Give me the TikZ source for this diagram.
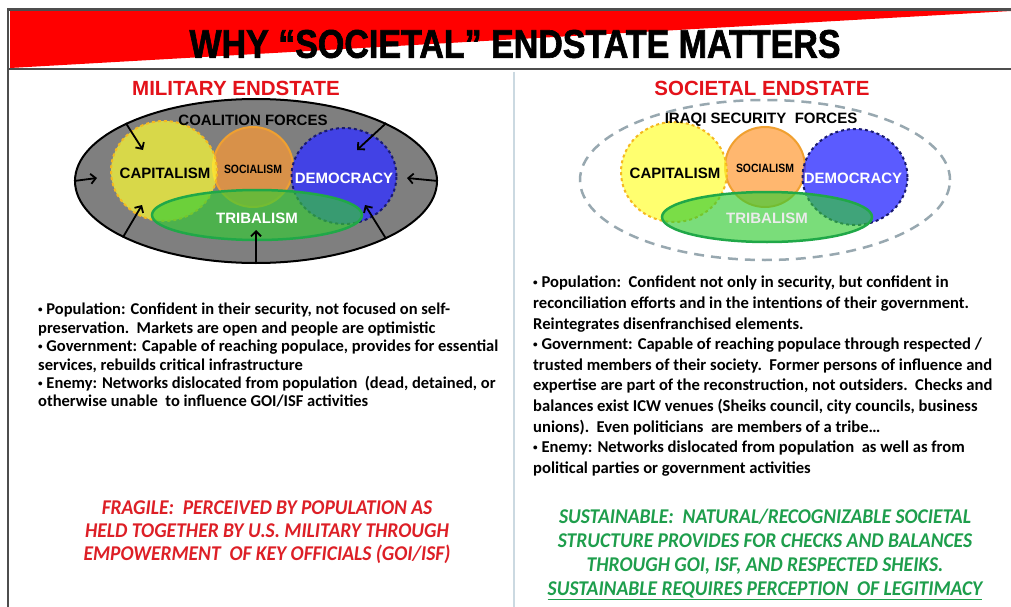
\documentclass[tikz,border=0pt]{standalone}
\usepackage{fontspec}
\setmainfont{Carlito}
\newfontfamily\arialfont{Liberation Sans}
\newfontfamily\narrowfont[FakeStretch=0.87]{Liberation Sans}
\newfontfamily\titlefont[FakeStretch=0.85,FakeBold=1.6]{Liberation Sans}
\newfontfamily\calnarrow[FakeStretch=0.93]{Carlito}
\usetikzlibrary{shapes.geometric,arrows.meta}
\newcommand{\dotbul}{\raisebox{0.12em}{\scalebox{0.55}{•}}}
\definecolor{hdrred}{HTML}{FF0000}
\definecolor{framegray}{HTML}{4D4D4D}
\definecolor{divider}{HTML}{CBD9E1}
\definecolor{headred}{HTML}{E3121A}
\definecolor{fragred}{HTML}{DD1F26}
\definecolor{sustgreen}{HTML}{1E9E4C}
\definecolor{coalgray}{HTML}{7F7F7F}
\definecolor{isfgray}{HTML}{98A8B0}
\definecolor{capfill}{HTML}{FFFF33}
\definecolor{capline}{HTML}{F5B820}
\definecolor{socfill}{HTML}{FF9933}
\definecolor{socline}{HTML}{F0A030}
\definecolor{demfill}{HTML}{3333FF}
\definecolor{demline}{HTML}{1A1A70}
\definecolor{tribfill}{HTML}{33CC33}
\definecolor{tribline}{HTML}{20A848}
\begin{document}
\begin{tikzpicture}[x=1pt,y=-1pt,
  every node/.append style={inner sep=0pt},
  blob/.style={ellipse,inner sep=0pt,line width=2pt},
  capblob/.style={blob,fill=capfill,fill opacity=0.7,draw=capline,dashed,minimum width=106pt,minimum height=100pt},
  socblob/.style={blob,fill=socfill,fill opacity=0.7,draw=socline,minimum size=80pt},
  demblob/.style={blob,fill=demfill,fill opacity=0.8,draw=demline,dashed,minimum width=105pt,minimum height=96pt},
  tribblob/.style={blob,fill=tribfill,fill opacity=0.65,draw=tribline,line width=2.5pt,minimum width=210pt,minimum height=50pt},
  tag/.style={font=\fontsize{15}{15}\selectfont\arialfont\bfseries},
  smalltag/.style={font=\fontsize{12}{12}\selectfont\narrowfont\bfseries},
  heading/.style={font=\fontsize{20.5}{20.5}\selectfont\arialfont\bfseries,text=headred},
  push/.style={black,line width=1.8pt,-{Straight Barb[length=5pt,width=10pt]}}]
\useasboundingbox (0,0) rectangle (1011,607);
\fill[white] (0,0) rectangle (1011,607);
% header band
\fill[hdrred] (10,11) -- (1011,11) -- (10,68) -- cycle;
\draw[framegray,line width=2.5pt] (1011,9.5) -- (8,9.5) -- (8,607);
\draw[framegray,line width=2pt] (8,69) -- (1011,69);
\draw[divider,line width=1.5pt] (514,72) -- (514,607);
\node[font=\fontsize{40}{40}\selectfont\titlefont\bfseries] (title) at (515,44) {WHY “SOCIETAL” ENDSTATE MATTERS};
\node[heading] (milHead) at (236,88) {MILITARY ENDSTATE};
\node[heading] (socHead) at (762,88) {SOCIETAL ENDSTATE};
% military endstate
\node[blob,draw=black,fill=coalgray,minimum width=362pt,minimum height=164pt] (coal) at (256,181) {};
\node[socblob] (soc) at (253,167) {};
\node[capblob] (cap) at (164,171) {};
\node[demblob] (dem) at (344,176) {};
\node[tribblob] (trib) at (257,215) {};
\node[tag] (coalT) at (253,120) {COALITION FORCES};
\node[tag] (capT) at (165,173) {CAPITALISM};
\node[smalltag] (socT) at (253,169) {SOCIALISM};
\node[tag,text=white] (demT) at (344,178) {DEMOCRACY};
\node[tag,text=white] (tribT) at (257,218) {TRIBALISM};
\coordinate (capNW) at (143,150);
\coordinate (capW) at (97,178);
\coordinate (capSW) at (142,205);
\coordinate (tribS) at (256,230);
\coordinate (demSE) at (365,205);
\coordinate (demE) at (407,178);
\coordinate (demNE) at (357,150);
\draw[push] (coal.156) -- (capNW);
\draw[push] (coal.180) -- (capW);
\draw[push] (coal.203) -- (capSW);
\draw[push] (coal.270) -- (tribS);
\draw[push] (coal.336) -- (demSE);
\draw[push] (coal.0) -- (demE);
\draw[push] (coal.24) -- (demNE);
% societal endstate
\node[blob,draw=isfgray,line width=2.5pt,dash pattern=on 10pt off 7pt,minimum width=370pt,minimum height=160pt] (isf) at (765,180) {};
\node[socblob] (soc2) at (765,167) {};
\node[capblob] (cap2) at (674,172) {};
\node[demblob] (dem2) at (855,177) {};
\node[tribblob] (trib2) at (767,217) {};
\node[tag] (isfT) at (761,120) {IRAQI SECURITY\ \ FORCES};
\node[tag] (cap2T) at (675,173) {CAPITALISM};
\node[smalltag] (soc2T) at (765,168) {SOCIALISM};
\node[tag,text=white] (dem2T) at (853,178) {DEMOCRACY};
\node[tag,text=white!92!black] (trib2T) at (767,218) {TRIBALISM};
% notes
\node[anchor=north west,align=left,font=\bfseries\fontsize{16.5}{18.4}\selectfont] (milNotes) at (38,303)
  {\dotbul\ Population: Confident in their security, not focused on self-\\
   preservation.\ \ Markets are open and people are optimistic\\
   \dotbul\ Government: Capable of reaching populace, provides for essential\\
   services, rebuilds critical infrastructure\\
   \dotbul\ Enemy: Networks dislocated from population\ \ (dead, detained, or\\
   otherwise unable\ \ to influence GOI/ISF activities};
\node[anchor=north west,align=left,font=\bfseries\fontsize{16.6}{20.6}\selectfont] (socNotes) at (533,276)
  {\dotbul\ Population:\ \ Confident not only in security, but confident in\\
   reconciliation efforts and in the intentions of their government.\\
   Reintegrates disenfranchised elements.\\
   \dotbul\ Government: Capable of reaching populace through respected /\\
   trusted members of their society.\ \ Former persons of influence and\\
   expertise are part of the reconstruction, not outsiders.\ \ Checks and\\
   balances exist ICW venues (Sheiks council, city councils, business\\
   unions).\ \ Even politicians\ \ are members of a tribe…\\
   \dotbul\ Enemy: Networks dislocated from population\ \ as well as from\\
   political parties or government activities};
\node[anchor=north,align=center,text=fragred,font=\fontsize{21}{23}\selectfont\calnarrow\bfseries\itshape] (fragile) at (267,501)
  {FRAGILE:\ \ PERCEIVED BY POPULATION AS\\
   HELD TOGETHER BY U.S. MILITARY THROUGH\\
   EMPOWERMENT\ \ OF KEY OFFICIALS (GOI/ISF)};
\node[anchor=north,align=center,text=sustgreen,font=\fontsize{21}{24}\selectfont\calnarrow\bfseries\itshape] (sustain) at (765,509)
  {SUSTAINABLE:\ \ NATURAL/RECOGNIZABLE SOCIETAL\\
   STRUCTURE PROVIDES FOR CHECKS AND BALANCES\\
   THROUGH GOI, ISF, AND RESPECTED SHEIKS.\\
   \underline{SUSTAINABLE REQUIRES PERCEPTION\ \ OF LEGITIMACY}};
\end{tikzpicture}
\end{document}
